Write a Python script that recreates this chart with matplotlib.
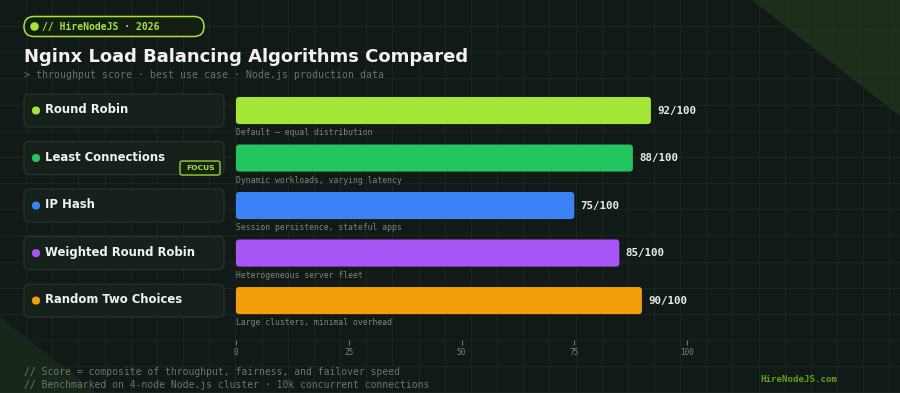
import numpy as np
import matplotlib
matplotlib.use("Agg")
import matplotlib.pyplot as plt
from matplotlib.patches import FancyBboxPatch, Polygon, Circle
from matplotlib.transforms import blended_transform_factory

# data
algorithms = ["Round Robin", "Least Connections", "IP Hash", "Weighted Round Robin", "Random Two Choices"]
scores = [92, 88, 75, 85, 90]
use_cases = ["Default \u2014 equal distribution", "Dynamic workloads, varying latency",
             "Session persistence, stateful apps", "Heterogeneous server fleet",
             "Large clusters, minimal overhead"]
colors = ["#a3e635", "#22c55e", "#3b82f6", "#a855f7", "#f59e0b"]
ticks = [0, 25, 50, 75, 100]
focus = "Least Connections"

BG = "#111a16"
GRID = "#1b2a21"
MONO = "DejaVu Sans Mono"
W, H = 900, 393

fig = plt.figure(figsize=(9, 3.93), dpi=100, facecolor=BG)

# background layer in pixel coords
bg = fig.add_axes([0, 0, 1, 1], zorder=0)
bg.set_xlim(0, W)
bg.set_ylim(H, 0)
bg.axis("off")
bg.set_facecolor(BG)

bg.add_patch(Polygon([(752, 0), (900, 0), (900, 116)], closed=True, color="#1f2e1b", lw=0))
bg.add_patch(Polygon([(0, 317), (0, 393), (97, 393)], closed=True, color="#19271a", lw=0))
step = 26.16
for gx in np.arange(step, W, step):
    bg.axvline(gx, color=GRID, lw=0.8, alpha=0.8, zorder=1)
for gy in np.arange(step, H, step):
    bg.axhline(gy, color=GRID, lw=0.8, alpha=0.8, zorder=1)

# header badge
bg.add_patch(FancyBboxPatch((24, 16.5), 180, 20, boxstyle="round,pad=0,rounding_size=10",
                            fc="#141d12", ec="#a3e635", lw=1.1, zorder=3))
bg.add_patch(Circle((34.5, 26.5), 3.6, color="#a3e635", zorder=4))
bg.text(42, 27, "// HireNodeJS \u00b7 2026", family=MONO, weight="bold", fontsize=7,
        color="#a3e635", va="center", ha="left", zorder=4)

bg.text(24, 57, "Nginx Load Balancing Algorithms Compared", fontsize=13, weight="bold",
        color="#f2f2f2", va="center", ha="left", zorder=4)
bg.text(24, 75, "> throughput score \u00b7 best use case \u00b7 Node.js production data",
        family=MONO, fontsize=7.1, color="#66736b", va="center", ha="left", zorder=4)

# footer
bg.text(24, 372, "// Score = composite of throughput, fairness, and failover speed",
        family=MONO, fontsize=7, color="#6a766e", va="center", ha="left", zorder=4)
bg.text(24, 385, "// Benchmarked on 4-node Node.js cluster \u00b7 10k concurrent connections",
        family=MONO, fontsize=7, color="#6a766e", va="center", ha="left", zorder=4)
bg.text(760, 379, "HireNodeJS.com", family=MONO, weight="bold", fontsize=6.6,
        color="#65a30d", va="center", ha="left", zorder=4)

# bar axes
left, right, top, bottom = 236, 687, 86, 340
ax = fig.add_axes([left / W, 1 - bottom / H, (right - left) / W, (bottom - top) / H], zorder=2)
ax.set_facecolor("none")
ypos = np.arange(len(algorithms))
ax.set_xlim(0, 100)
ax.set_ylim(4.83, -0.516)
for s in ax.spines.values():
    s.set_visible(False)

bars = ax.barh(ypos, scores, height=0.57, color=colors)
px_x = (right - left) / 100.0
px_y = (bottom - top) / (4.83 + 0.516)
for b, c in zip(bars, colors):
    b.set_visible(False)
    ax.add_patch(FancyBboxPatch((b.get_x(), b.get_y()), b.get_width(), b.get_height(),
                                boxstyle="round,pad=0,rounding_size=%.3f" % (3 / px_x),
                                mutation_aspect=px_x / px_y, fc=c, ec="none", zorder=3))

for i, (v, d) in enumerate(zip(scores, use_cases)):
    ax.annotate(f"{v}/100", (v, i), xytext=(4.5, 0), textcoords="offset points",
                family=MONO, weight="bold", fontsize=7.8, color="#e8ebe8", va="center", ha="left")
    ax.text(0, i + 0.47, d, family=MONO, fontsize=5.9, color="#7b857e", va="center", ha="left")

ax.set_xticks(ticks)
ax.set_xticklabels([str(t) for t in ticks], family=MONO, fontsize=5.6, color="#7b857e")
ax.tick_params(axis="x", colors="#6b756e", length=3.6, width=0.8, pad=2.5, labelcolor="#7b857e")
ax.set_yticks([])

# label boxes on the left, x in pixels, y in data units
tr = blended_transform_factory(bg.transData, ax.transData)
box_h = 33 / px_y
for i, (name, c) in enumerate(zip(algorithms, colors)):
    ax.add_patch(FancyBboxPatch((24, i - box_h / 2), 200, box_h, boxstyle="round,pad=0,rounding_size=5",
                                mutation_aspect=1 / px_y, fc="#17211c", ec="#28342d", lw=0.8,
                                transform=tr, clip_on=False, zorder=2))
    ax.add_patch(FancyBboxPatch((32, i - 4 / px_y), 8, 8 / px_y, boxstyle="round,pad=0,rounding_size=4",
                                mutation_aspect=1 / px_y, fc=c, ec="none",
                                transform=tr, clip_on=False, zorder=3))
    ax.text(45, i - 1 / px_y, name, transform=tr, fontsize=8.4, weight="bold", color="#f1f3f1",
            va="center", ha="left", clip_on=False, zorder=4)
    if name == focus:
        ax.add_patch(FancyBboxPatch((180, i + 3 / px_y), 40, 14 / px_y,
                                    boxstyle="round,pad=0,rounding_size=2",
                                    mutation_aspect=1 / px_y, fc="#18220f", ec="#a3e635", lw=0.9,
                                    transform=tr, clip_on=False, zorder=3))
        ax.text(186, i + 10 / px_y, "FOCUS", transform=tr, fontsize=5.4, weight="bold",
                color="#a3e635", va="center", ha="left", clip_on=False, zorder=4)

fig.savefig("out.png", dpi=100, facecolor=BG)
